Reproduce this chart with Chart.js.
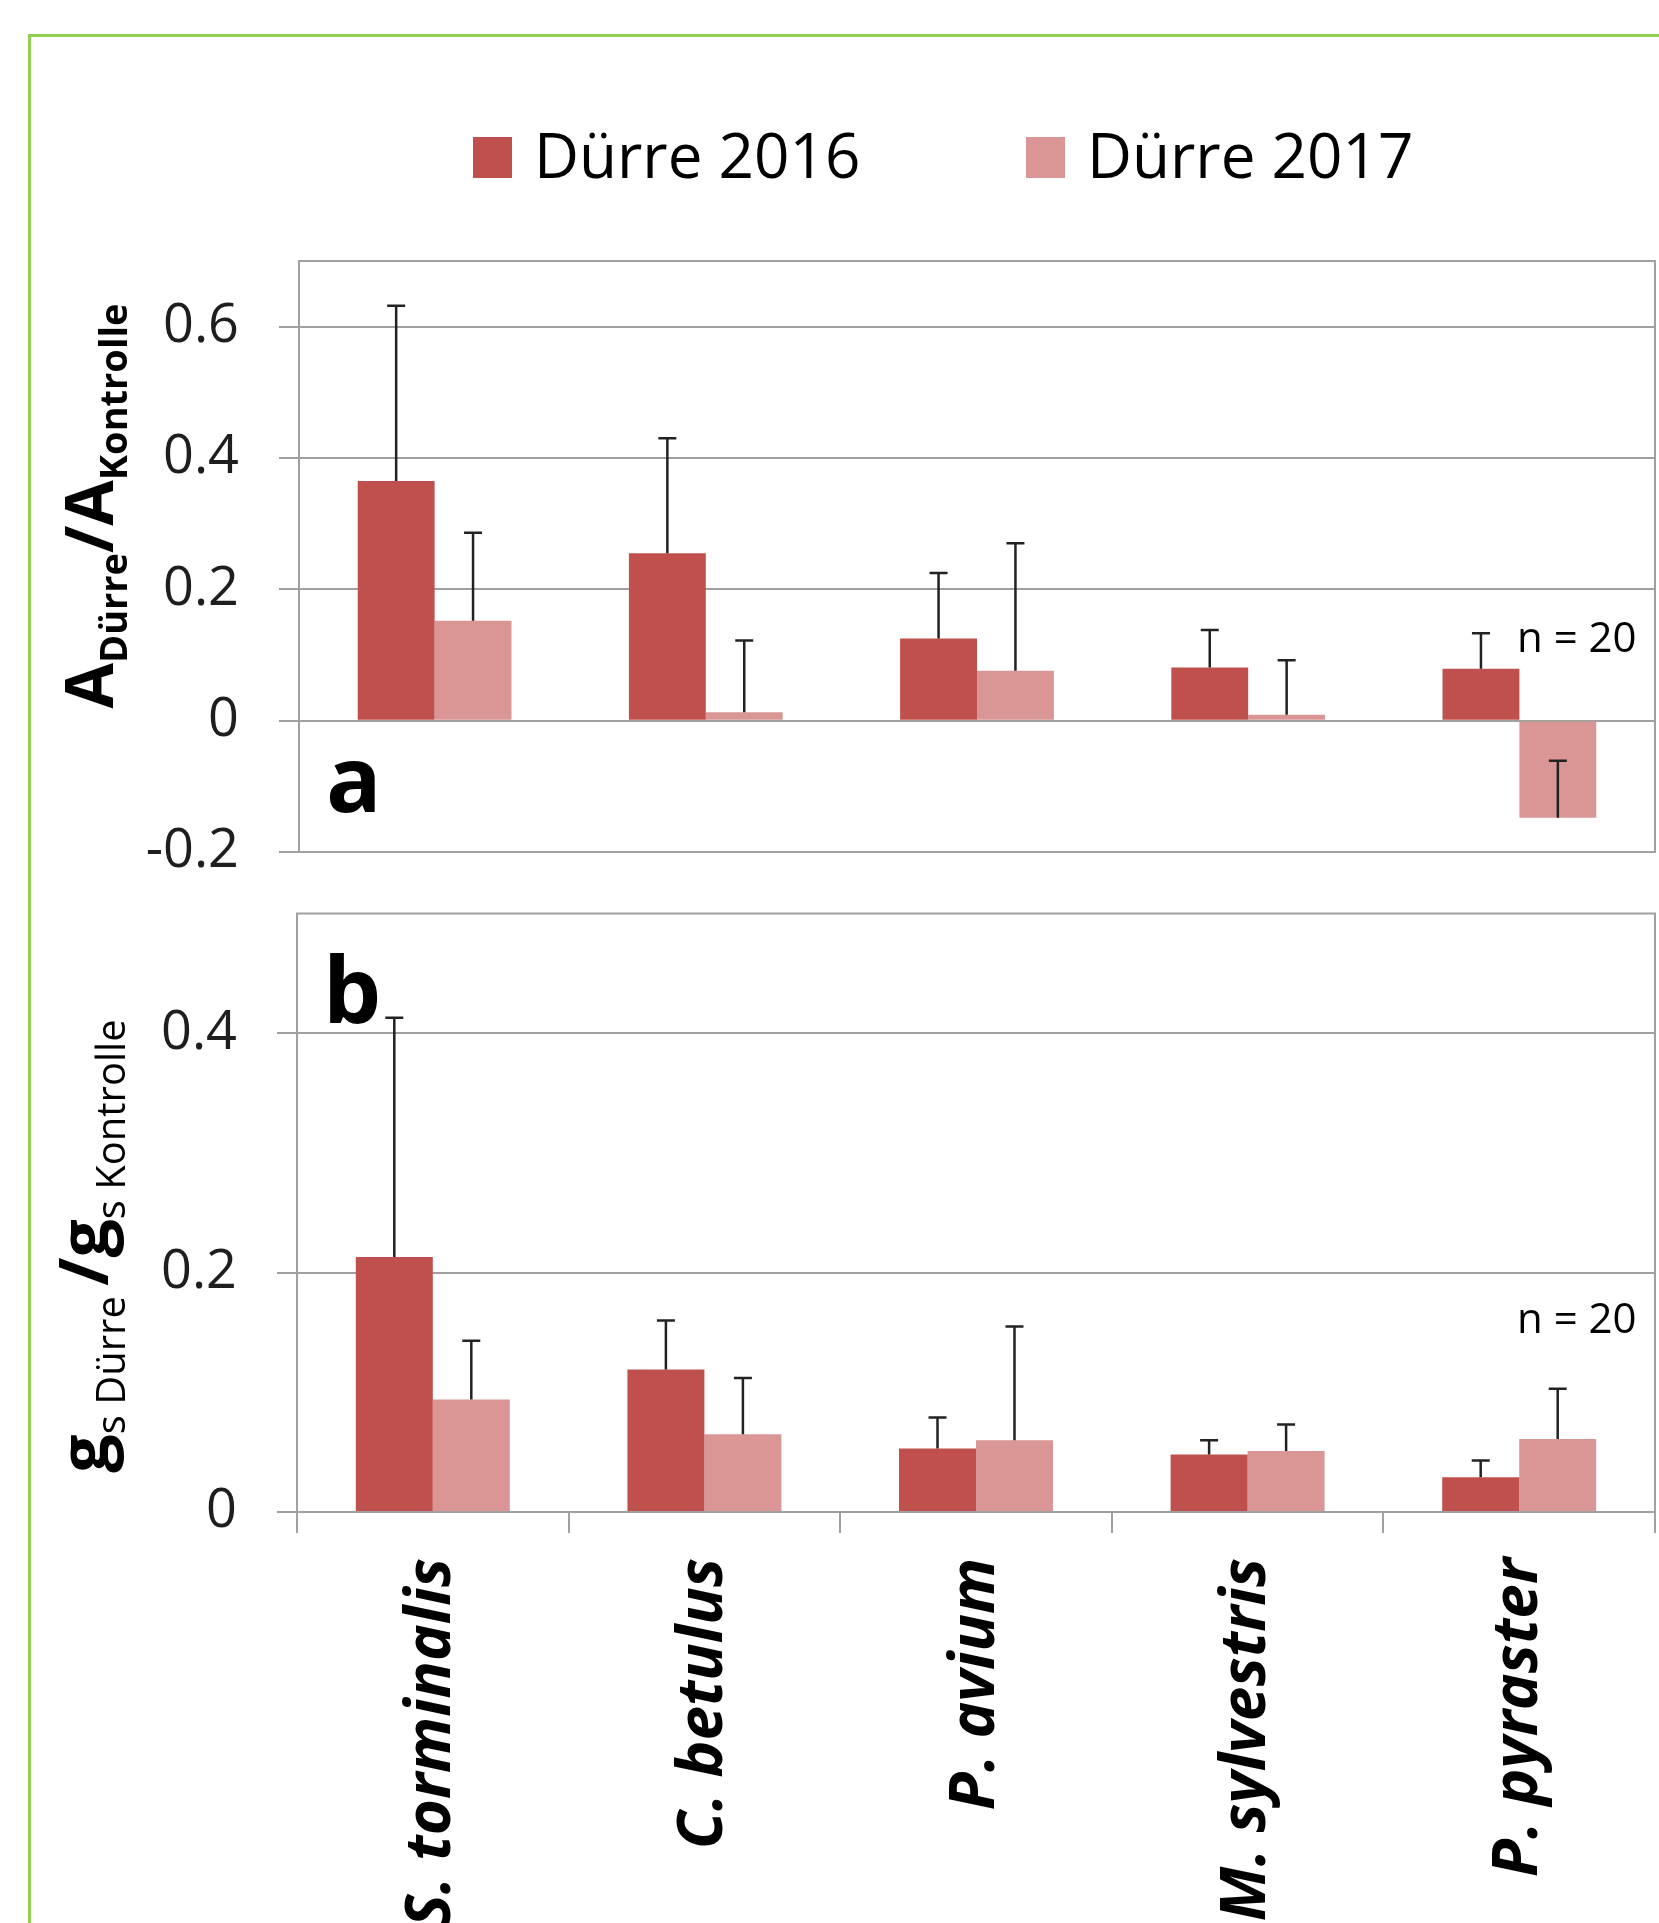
<!DOCTYPE html>
<html>
<head>
<meta charset="utf-8">
<script src="https://cdn.jsdelivr.net/npm/chart.js@4.4.1/dist/chart.umd.min.js"></script>
<style>
  html, body { margin: 0; padding: 0; background: #fff; }
  body { width: 1659px; height: 1923px; position: relative; overflow: hidden; }
  #frame {
    position: absolute; left: 28px; top: 34px; width: 1700px; height: 2000px;
    border-top: 3px solid #92d050; border-left: 3px solid #92d050;
  }
  canvas { position: absolute; left: 0; }
  #chart-a { top: 0; }
  #chart-b { top: 890px; }
</style>
</head>
<body>
<div id="frame"></div>
<canvas id="chart-a" width="1659" height="890"></canvas>
<canvas id="chart-b" width="1659" height="1033"></canvas>
<script>
"use strict";

// ── Data ─────────────────────────────────────────────────────────────────────
const species = ["S. torminalis", "C. betulus", "P. avium", "M. sylvestris", "P. pyraster"];
const seriesNames = ["Dürre 2016", "Dürre 2017"];

// panel a: A(Dürre)/A(Kontrolle)
const a2016    = [0.365, 0.255, 0.125, 0.081, 0.079];
const a2016Err = [0.267, 0.175, 0.100, 0.057, 0.054];
const a2017    = [0.152, 0.013, 0.076, 0.009, -0.148];
const a2017Err = [0.134, 0.109, 0.194, 0.083, 0.087];

// panel b: gs(Dürre)/gs(Kontrolle)
const b2016    = [0.213, 0.119, 0.053, 0.048, 0.029];
const b2016Err = [0.200, 0.041, 0.026, 0.012, 0.014];
const b2017    = [0.094, 0.065, 0.060, 0.051, 0.061];
const b2017Err = [0.049, 0.047, 0.095, 0.022, 0.042];

const aTicks = [-0.2, 0, 0.2, 0.4, 0.6];
const bTicks = [0, 0.2, 0.4];

// ── Style ────────────────────────────────────────────────────────────────────
const FONT = "'Open Sans', sans-serif";
const CLR = {
  dark:  "#c0504d",
  light: "#d99694",
  grid:  "#a0a0a0",
  text:  "#1e1e1e",
  err:   "#222222",
};

Chart.defaults.font.family = FONT;
Chart.defaults.color = CLR.text;

// ── Plugins ──────────────────────────────────────────────────────────────────
function errorBars(errs) {
  return {
    id: "errorBars",
    afterDatasetsDraw(chart) {
      const ctx = chart.ctx, y = chart.scales.y;
      ctx.save();
      ctx.strokeStyle = CLR.err;
      ctx.lineWidth = 2.5;
      chart.data.datasets.forEach((ds, d) => {
        chart.getDatasetMeta(d).data.forEach((bar, i) => {
          const v = ds.data[i];
          const base = y.getPixelForValue(v);
          const tip = y.getPixelForValue(v + errs[d][i]);
          ctx.beginPath();
          ctx.moveTo(bar.x, base); ctx.lineTo(bar.x, tip);
          ctx.moveTo(bar.x - 9, tip); ctx.lineTo(bar.x + 9, tip);
          ctx.stroke();
        });
      });
      ctx.restore();
    },
  };
}

const plotFrame = {
  id: "plotFrame",
  beforeDatasetsDraw(chart) {
    const { ctx, chartArea: a } = chart;
    ctx.save();
    ctx.strokeStyle = CLR.grid;
    ctx.lineWidth = 2;
    ctx.strokeRect(a.left, a.top, a.right - a.left, a.bottom - a.top);
    ctx.restore();
  },
};

// rotated axis title built from runs (main text + subscripts)
function drawRuns(ctx, runs, baseX, centerY) {
  ctx.save();
  let total = 0;
  runs.forEach(r => { ctx.font = r.font; r.w = ctx.measureText(r.text).width; total += r.w; });
  ctx.translate(baseX, centerY);
  ctx.rotate(-Math.PI / 2);
  ctx.fillStyle = "#000";
  ctx.textBaseline = "alphabetic";
  let x = -total / 2;
  runs.forEach(r => { ctx.font = r.font; ctx.fillText(r.text, x, r.dy || 0); x += r.w; });
  ctx.restore();
}

function labels(opts) {
  return {
    id: "labels",
    afterDraw(chart) {
      const ctx = chart.ctx;
      ctx.save();
      ctx.fillStyle = "#000";
      ctx.textBaseline = "alphabetic";
      ctx.font = `bold 92px ${FONT}`;
      ctx.fillText(opts.panel, opts.panelX, opts.panelY);
      ctx.font = `42px ${FONT}`;
      ctx.fillText("n = 20", 1517, opts.nY);
      ctx.restore();
      drawRuns(ctx, opts.title, opts.titleX, opts.titleY);
    },
  };
}

const legendPlugin = {
  id: "topLegend",
  afterDraw(chart) {
    const ctx = chart.ctx;
    const xs = [473, 1026];
    ctx.save();
    ctx.font = `62px ${FONT}`;
    ctx.textBaseline = "alphabetic";
    chart.data.datasets.forEach((ds, i) => {
      ctx.fillStyle = ds.backgroundColor;
      ctx.fillRect(xs[i], 137, 39, 41);
      ctx.fillStyle = "#000";
      ctx.fillText(ds.label, xs[i] + 61, 178);
    });
    ctx.restore();
  },
};

// ── Shared chart config ──────────────────────────────────────────────────────
function datasets(v16, v17) {
  return [
    { label: seriesNames[0], data: v16, backgroundColor: CLR.dark,
      categoryPercentage: 0.567, barPercentage: 1.0 },
    { label: seriesNames[1], data: v17, backgroundColor: CLR.light,
      categoryPercentage: 0.567, barPercentage: 1.0 },
  ];
}

function yScale(min, max, ticks, width) {
  return {
    min, max,
    afterBuildTicks: s => { s.ticks = ticks.map(v => ({ value: v })); },
    afterFit: s => { s.width = width; s.paddingTop = 0; s.paddingBottom = 0; },
    grid: { color: CLR.grid, lineWidth: 2, tickLength: 20, drawTicks: true },
    border: { display: true, color: CLR.grid, width: 2 },
    ticks: {
      padding: 40,
      color: CLR.text,
      font: { size: 54 },
      callback: v => String(v),
    },
  };
}

// ── Panel a ──────────────────────────────────────────────────────────────────
new Chart(document.getElementById("chart-a"), {
  type: "bar",
  data: { labels: species, datasets: datasets(a2016, a2017) },
  options: {
    responsive: false,
    animation: false,
    layout: { padding: { top: 261, bottom: 38, left: 0, right: 4 } },
    plugins: { legend: { display: false }, tooltip: { enabled: false } },
    scales: {
      x: {
        display: false,
        afterFit: s => { s.height = 0; s.paddingLeft = 0; s.paddingRight = 0; },
      },
      y: yScale(-0.2, 0.7, aTicks, 299),
    },
  },
  plugins: [
    plotFrame,
    errorBars([a2016Err, a2017Err]),
    legendPlugin,
    labels({
      panel: "a", panelX: 326, panelY: 812, nY: 652,
      titleX: 113, titleY: 506,
      title: [
        { text: "A", font: `bold 66px ${FONT}` },
        { text: "Dürre", font: `bold 38px ${FONT}`, dy: 14 },
        { text: "/A", font: `bold 66px ${FONT}` },
        { text: "Kontrolle", font: `bold 38px ${FONT}`, dy: 14 },
      ],
    }),
  ],
});

// ── Panel b ──────────────────────────────────────────────────────────────────
new Chart(document.getElementById("chart-b"), {
  type: "bar",
  data: { labels: species, datasets: datasets(b2016, b2017) },
  options: {
    responsive: false,
    animation: false,
    layout: { padding: { top: 23.5, bottom: 0, left: 0, right: 4 } },
    plugins: { legend: { display: false }, tooltip: { enabled: false } },
    scales: {
      x: {
        afterFit: s => { s.height = 411; s.paddingLeft = 0; s.paddingRight = 0; },
        grid: { display: true, drawOnChartArea: false, drawTicks: true,
                tickLength: 21, color: CLR.grid, lineWidth: 2 },
        border: { display: true, color: CLR.grid, width: 2 },
        ticks: {
          autoSkip: false,
          minRotation: 90,
          maxRotation: 90,
          padding: 25,
          color: "#000",
          font: { size: 62, weight: "bold", style: "italic" },
        },
      },
      y: yScale(0, 0.5, bTicks, 297),
    },
  },
  plugins: [
    plotFrame,
    errorBars([b2016Err, b2017Err]),
    labels({
      panel: "b", panelX: 323, panelY: 133, nY: 443,
      titleX: 108, titleY: 356,
      title: [
        { text: "g", font: `bold 68px ${FONT}` },
        { text: "s Dürre ", font: `40px ${FONT}`, dy: 17 },
        { text: "/", font: `bold 68px ${FONT}` },
        { text: "g", font: `bold 68px ${FONT}` },
        { text: "s Kontrolle", font: `40px ${FONT}`, dy: 17 },
      ],
    }),
  ],
});
</script>
</body>
</html>
